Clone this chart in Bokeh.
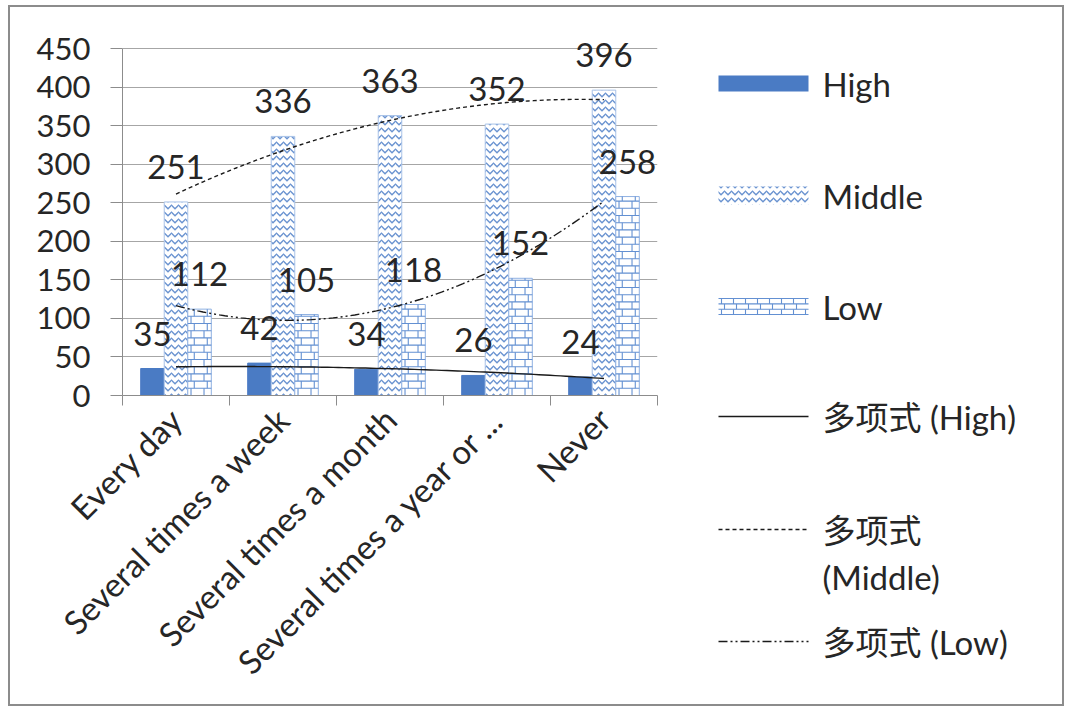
from math import pi, ceil
import numpy as np
from bokeh.plotting import figure
from bokeh.layouts import row
from bokeh.models import Range1d, FixedTicker, ColumnDataSource
from bokeh.transform import dodge
from bokeh.core.properties import value
from bokeh.embed import file_html
from bokeh.resources import INLINE

# ---------------- data ----------------
categories = ["Every day", "Several times a week", "Several times a month",
              "Several times a year or ...", "Never"]
high = [35, 42, 34, 26, 24]
middle = [251, 336, 363, 352, 396]
low = [112, 105, 118, 152, 258]
y_ticks = [0, 50, 100, 150, 200, 250, 300, 350, 400, 450]
series_names = ["High", "Middle", "Low"]
trend_names = ["多项式 (High)", "多项式 (Middle)", "多项式 (Low)"]

FONT = "Lato, 'Noto Sans CJK SC', sans-serif"
TXT = "#262626"
BLUE = "#4a7bc4"
HATCH_BLUE = "#6a93d0"
BRICK_BLUE = "#6390d2"

xs = list(range(1, len(categories) + 1))
src = ColumnDataSource(dict(
    x=xs, high=high, middle=middle, low=low,
    high_lbl=[str(v) for v in high],
    middle_lbl=[str(v) for v in middle],
    low_lbl=[str(v) for v in low],
))

# screen geometry of the plotting frame
FRAME_W, FRAME_H_450 = 535, 347
PX_X = FRAME_W / 5.0           # px per category
PX_Y = FRAME_H_450 / 450.0     # px per value unit


def brick_segments(x0s, x1s, y0s, y1s, row_h, brick_w):
    """Brick pattern line segments filling rectangles (all args in the same units)."""
    sx0, sy0, sx1, sy1 = [], [], [], []
    for a, b, lo, hi in zip(x0s, x1s, y0s, y1s):
        n = int(ceil((hi - lo) / row_h))
        for k in range(n):
            yb = lo + k * row_h
            yt = min(yb + row_h, hi)
            if k > 0:
                sx0.append(a); sx1.append(b); sy0.append(yb); sy1.append(yb)
            off = brick_w / 2 if k % 2 else brick_w * 0.25
            xv = a + off
            while xv < b - 1e-9:
                sx0.append(xv); sx1.append(xv); sy0.append(yb); sy1.append(yt)
                xv += brick_w
    return sx0, sy0, sx1, sy1


# ---------------- main chart ----------------
Y_END = 450 * 357 / 347
p1 = figure(width=700, height=697, x_range=Range1d(0.5, 5.5), y_range=Range1d(0, Y_END),
            toolbar_location=None, output_backend="svg",
            min_border_left=112, min_border_right=53, min_border_top=31, min_border_bottom=309)
p1.frame_align = False
p1.outline_line_color = None
p1.background_fill_color = "white"
p1.border_fill_color = "white"

bw = 0.22
p1.vbar(x=dodge("x", -bw, range=p1.x_range), top="high", width=bw, source=src,
        fill_color=BLUE, line_color=BLUE)
p1.vbar(x="x", top="middle", width=bw, source=src,
        fill_color="white", line_color="#a9c3e8", line_width=1,
        hatch_pattern="horizontal_wave", hatch_color=HATCH_BLUE, hatch_scale=7, hatch_weight=1.4)
p1.vbar(x=dodge("x", bw, range=p1.x_range), top="low", width=bw, source=src,
        fill_color="white", line_color="#8fb1e2", line_width=1)
bx0 = [x + bw / 2 for x in xs]
bx1 = [x + 1.5 * bw for x in xs]
s = brick_segments(bx0, bx1, [0] * len(low), low, 7.2 / PX_Y, 13.0 / PX_X)
p1.segment(x0=s[0], y0=s[1], x1=s[2], y1=s[3], line_color=BRICK_BLUE, line_width=1.1)

# polynomial (order 2) trendlines, as in the source spreadsheet
xt = np.linspace(1, 5, 80)
for vals, dash in [(high, "solid"), (middle, "4 3"), (low, "9 3 2 3 2 3")]:
    coef = np.polyfit(xs, vals, 2)
    p1.line(xt, np.polyval(coef, xt), line_color="#1a1a1a", line_width=1.4, line_dash=dash)

for col, off in [("high", -bw), ("middle", 0), ("low", bw)]:
    p1.text(x=dodge("x", off, range=p1.x_range), y=col, text=col + "_lbl", source=src,
            text_align="center", text_baseline="middle", y_offset=-35,
            text_font=value(FONT), text_font_size="33px", text_color=TXT)

# axes
p1.xgrid.visible = False
p1.ygrid.grid_line_color = "#a6a6a6"
p1.ygrid.grid_line_width = 1
p1.yaxis.ticker = FixedTicker(ticks=y_ticks)
p1.ygrid.ticker = FixedTicker(ticks=y_ticks)
p1.yaxis.bounds = (0, 450)
p1.yaxis.axis_line_color = "#8c8c8c"
p1.yaxis.major_tick_line_color = "#8c8c8c"
p1.yaxis.major_tick_out = 12
p1.yaxis.major_tick_in = 0
p1.yaxis.minor_tick_line_color = None
p1.yaxis.major_label_standoff = 20
p1.yaxis.major_label_text_font = FONT
p1.yaxis.major_label_text_font_size = "31px"
p1.yaxis.major_label_text_color = TXT

p1.xaxis.ticker = FixedTicker(ticks=xs, minor_ticks=[x - 0.5 for x in xs] + [xs[-1] + 0.5])
p1.xaxis.major_label_overrides = {x: c for x, c in zip(xs, categories)}
p1.xaxis.major_label_orientation = pi / 4
p1.xaxis.axis_line_color = "#8c8c8c"
p1.xaxis.major_tick_line_color = None
p1.xaxis.minor_tick_line_color = "#8c8c8c"
p1.xaxis.minor_tick_out = 10
p1.xaxis.minor_tick_in = 0
p1.xaxis.major_label_standoff = 8
p1.xaxis.major_label_text_font = FONT
p1.xaxis.major_label_text_font_size = "33px"
p1.xaxis.major_label_text_color = TXT

# ---------------- legend panel ----------------
p2 = figure(width=352, height=697, x_range=Range1d(710, 1062), y_range=Range1d(704, 7),
            toolbar_location=None, output_backend="svg", x_axis_type=None, y_axis_type=None,
            min_border=0)
p2.frame_align = False
p2.outline_line_color = None
p2.grid.visible = False
p2.border_fill_color = "white"

sw_l, sw_r = 718, 808
p2.quad(left=sw_l, right=sw_r, top=75, bottom=91, fill_color=BLUE, line_color=None)
p2.quad(left=sw_l, right=sw_r, top=186, bottom=204, fill_color="white", line_color=None,
        hatch_pattern="horizontal_wave", hatch_color=HATCH_BLUE, hatch_scale=7, hatch_weight=1.4)
ls = brick_segments([sw_l], [sw_r], [298], [314], 5.4, 12.0)
p2.segment(x0=ls[0], y0=ls[1], x1=ls[2], y1=ls[3], line_color=BRICK_BLUE, line_width=1.1)
p2.segment(x0=[sw_l, sw_l], y0=[298, 314], x1=[sw_r, sw_r], y1=[298, 314],
           line_color=BRICK_BLUE, line_width=1.1)
p2.line([sw_l, sw_r], [416, 416], line_color="#1a1a1a", line_width=1.4)
p2.line([sw_l, sw_r], [529, 529], line_color="#1a1a1a", line_width=1.4, line_dash="4 3")
p2.line([sw_l, sw_r], [641, 641], line_color="#1a1a1a", line_width=1.4, line_dash="9 3 2 3 2 3")

leg_text = [series_names[0], series_names[1], series_names[2], trend_names[0],
            "多项式", "(Middle)", trend_names[2]]
leg_y = [83, 195, 306, 416, 529, 576, 641]
p2.text(x=[822] * len(leg_text), y=leg_y, text=leg_text, text_align="left",
        text_baseline="middle", text_font=value(FONT), text_font_size="33px", text_color=TXT)

layout = row(p1, p2, styles={"border": "2px solid #8c8c8c"}, margin=(5, 0, 0, 8))

open("out.html", "w").write(file_html(layout, INLINE))
